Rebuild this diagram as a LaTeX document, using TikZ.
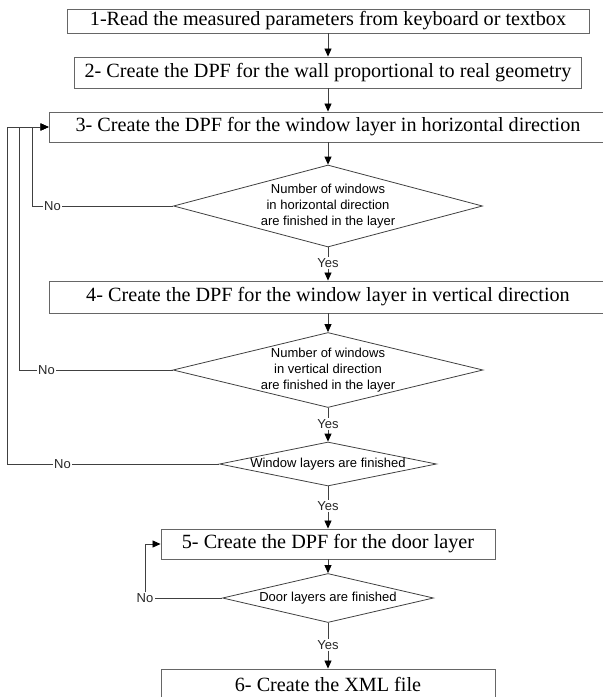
\documentclass[tikz,border=0pt]{standalone}
\usepackage{fontspec}
\setmainfont{Liberation Serif}
\newfontfamily\lsans{Liberation Sans}
\usetikzlibrary{shapes.geometric,arrows.meta}
\begin{document}
\begin{tikzpicture}[x=1pt,y=-1pt,
  stepbox/.style={draw=black!60, line width=0.9pt, inner sep=0pt, text=black,
    font=\fontsize{20.2}{24}\selectfont},
  dia/.style={diamond, draw=black!75, line width=0.8pt, aspect=1, inner sep=0pt,
    font=\lsans\fontsize{13}{16}\selectfont},
  lbl/.style={inner sep=1pt, font=\lsans\fontsize{13}{15}\selectfont, text=black!85},
  conn/.style={draw=black!75, line width=0.8pt},
  arr/.style={conn, -{Triangle[length=8pt,width=7pt,color=black]}},
]
\useasboundingbox (0,0) rectangle (603,697);

\node[stepbox, minimum width=522pt, minimum height=24pt] (b1) at (328,21)
  {1-Read the measured parameters from keyboard or textbox};
\node[stepbox, minimum width=507pt, minimum height=31pt] (b2) at (328,72.5)
  {2- Create the DPF for the wall proportional to real geometry};
\node[stepbox, minimum width=558pt, minimum height=30pt] (b3) at (328,127)
  {3- Create the DPF for the window layer in horizontal direction};
\node[dia, minimum width=309pt, minimum height=82pt] (d1) at (328,206)
  {\makebox[0pt]{\begin{tabular}{@{}c@{}}Number of windows\\ in horizontal direction\\ are finished in the layer\end{tabular}}};
\node[lbl] (y1) at (328,263) {Yes};
\node[stepbox, minimum width=558pt, minimum height=32pt] (b4) at (328,297)
  {4- Create the DPF for the window layer in vertical direction};
\node[dia, minimum width=310pt, minimum height=75pt] (d2) at (328,370)
  {\makebox[0pt]{\begin{tabular}{@{}c@{}}Number of windows\\ in vertical direction\\ are finished in the layer\end{tabular}}};
\node[lbl] (y2) at (328,424) {Yes};
\node[dia, minimum width=217pt, minimum height=44pt] (d3) at (328,464)
  {\makebox[0pt]{Window layers are finished}};
\node[lbl] (y3) at (328,506) {Yes};
\node[stepbox, minimum width=334pt, minimum height=30pt] (b5) at (328,544)
  {5- Create the DPF for the door layer};
\node[dia, minimum width=211pt, minimum height=49pt] (d4) at (328,598)
  {\makebox[0pt]{Door layers are finished}};
\node[lbl] (y4) at (328,645) {Yes};
\node[stepbox, minimum width=334pt, minimum height=30pt] (b6) at (328,684)
  {6- Create the XML file};

\node[lbl] (n1) at (52.5,206) {No};
\node[lbl] (n2) at (46.5,370) {No};
\node[lbl] (n3) at (62.5,464) {No};
\node[lbl] (n4) at (145,598) {No};

\coordinate (k1) at (32,127);
\coordinate (k2) at (19,127);
\coordinate (k3) at (7,127);

\draw[arr] (b1) -- (b2);
\draw[arr] (b2) -- (b3);
\draw[arr] (b3) -- (d1);
\draw[conn] (d1) -- (y1);
\draw[arr] (y1) -- (b4);
\draw[arr] (b4) -- (d2);
\draw[conn] (d2) -- (y2);
\draw[arr] (y2) -- (d3);
\draw[conn] (d3) -- (y3);
\draw[arr] (y3) -- (b5);
\draw[arr] (b5) -- (d4);
\draw[conn] (d4) -- (y4);
\draw[arr] (y4) -- (b6);

\draw[conn] (d1.west) -- (n1.east);
\draw[arr] (n1.west) -| (k1) -- (b3.west);
\draw[conn] (d2.west) -- (n2.east);
\draw[arr] (n2.west) -| (k2) -- (b3.west);
\draw[conn] (d3.west) -- (n3.east);
\draw[arr] (n3.west) -| (k3) -- (b3.west);
\draw[conn] (d4.west) -- (n4.east);
\draw[arr] (n4.north) |- (b5.west);
\end{tikzpicture}
\end{document}
